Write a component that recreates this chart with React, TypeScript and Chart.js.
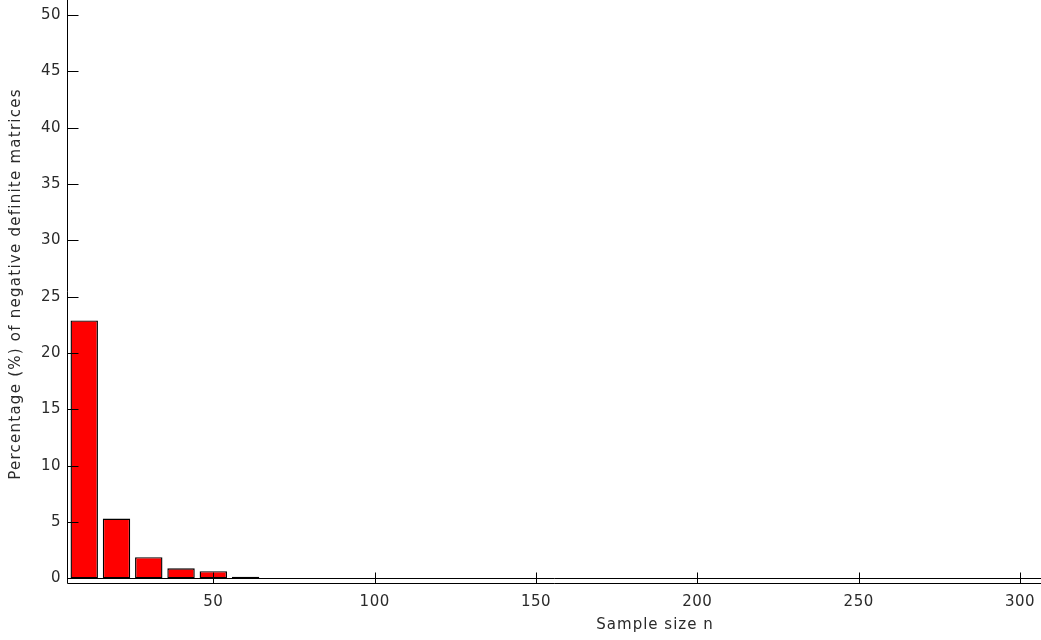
import React, { useEffect, useRef } from "react";
import { Chart, registerables } from "chart.js";

Chart.register(...registerables);

// ---- data ----
const sampleSizes: number[] = [
  10, 20, 30, 40, 50, 60, 70, 80, 90, 100, 110, 120, 130, 140, 150,
  160, 170, 180, 190, 200, 210, 220, 230, 240, 250, 260, 270, 280, 290, 300,
];
const negativeDefinitePct: number[] = [
  22.9, 5.32, 1.89, 0.91, 0.65, 0.15, 0, 0, 0, 0, 0, 0, 0, 0, 0,
  0, 0, 0, 0, 0, 0, 0, 0, 0, 0, 0, 0, 0, 0, 0,
];
const xTickValues: number[] = [50, 100, 150, 200, 250, 300];
const yTickValues: number[] = [0, 5, 10, 15, 20, 25, 30, 35, 40, 45, 50];
const xAxisTitle = "Sample size n";
const yAxisTitle = "Percentage (%) of negative definite matrices";

const FONT = '"DejaVu Sans", "Liberation Sans", Arial, sans-serif';
const TEXT_COLOR = "#2a2a2a";

const matlabAxesPlugin = {
  id: "matlabAxes",
  beforeDraw(chart: any) {
    const ctx = chart.ctx as CanvasRenderingContext2D;
    ctx.save();
    ctx.fillStyle = "#ffffff";
    ctx.fillRect(0, 0, chart.width, chart.height);
    ctx.restore();
    (ctx as any).letterSpacing = "0.5px";
  },
  afterDatasetsDraw(chart: any) {
    const ctx = chart.ctx as CanvasRenderingContext2D;
    const { chartArea, scales } = chart;
    const xs = scales.x;
    const ys = scales.y;
    const left = Math.round(chartArea.left) + 0.5;
    const right = chartArea.right;
    const bottom = Math.round(chartArea.bottom) + 0.5;
    const top = chartArea.top;
    const tickLen = 11;
    ctx.save();
    ctx.strokeStyle = "#000000";
    ctx.lineWidth = 1;
    ctx.beginPath();
    // y axis
    ctx.moveTo(left, top);
    ctx.lineTo(left, bottom);
    // x axis
    ctx.moveTo(left, bottom);
    ctx.lineTo(right, bottom);
    // baseline at 0
    const y0 = Math.round(ys.getPixelForValue(0)) + 0.5;
    ctx.moveTo(left, y0);
    ctx.lineTo(right, y0);
    // x ticks (inside)
    xTickValues.forEach((v) => {
      const px = Math.round(xs.getPixelForValue(v)) + 0.5;
      ctx.moveTo(px, bottom);
      ctx.lineTo(px, bottom - tickLen);
    });
    // y ticks (inside)
    yTickValues.forEach((v) => {
      const py = Math.round(ys.getPixelForValue(v)) + 0.5;
      ctx.moveTo(left, py);
      ctx.lineTo(left + tickLen, py);
    });
    ctx.stroke();

    // axis titles
    ctx.fillStyle = TEXT_COLOR;
    ctx.font = `15px ${FONT}`;
    (ctx as any).letterSpacing = "1px";
    ctx.textAlign = "center";
    ctx.textBaseline = "middle";
    ctx.fillText(xAxisTitle, 655, 625);
    (ctx as any).letterSpacing = "1.25px";
    ctx.translate(16, 284);
    ctx.rotate(-Math.PI / 2);
    ctx.fillText(yAxisTitle, 0, 0);
    ctx.restore();
  },
};

export default function App() {
  const canvasRef = useRef<HTMLCanvasElement | null>(null);

  useEffect(() => {
    if (!canvasRef.current) return;
    const chart = new Chart(canvasRef.current, {
      type: "bar",
      data: {
        datasets: [
          {
            data: sampleSizes.map((n, i) => ({ x: n, y: negativeDefinitePct[i] })),
            backgroundColor: "#ff0000",
            borderColor: "#000000",
            borderWidth: 1.4,
            borderSkipped: false,
            barPercentage: 0.85,
            categoryPercentage: 1,
          },
        ],
      },
      options: {
        animation: false,
        responsive: false,
        devicePixelRatio: 1,
        layout: { padding: 0 },
        plugins: {
          legend: { display: false },
          tooltip: { enabled: false },
          title: { display: false },
        },
        scales: {
          x: {
            type: "linear",
            offset: false,
            min: 4.66,
            max: 306.5,
            grid: { display: false, drawTicks: false },
            border: { display: false },
            ticks: {
              color: TEXT_COLOR,
              font: { family: FONT, size: 15 },
              padding: 10,
              maxRotation: 0,
              autoSkip: false,
            },
            afterBuildTicks: (scale: any) => {
              scale.ticks = xTickValues.map((v) => ({ value: v }));
            },
            afterFit: (scale: any) => {
              scale.height = 57;
              scale.paddingLeft = 0;
              scale.paddingRight = 0;
            },
          },
          y: {
            type: "linear",
            min: -0.4,
            max: 51.33,
            grid: { display: false, drawTicks: false },
            border: { display: false },
            ticks: {
              color: TEXT_COLOR,
              font: { family: FONT, size: 15 },
              padding: 6,
              autoSkip: false,
            },
            afterBuildTicks: (scale: any) => {
              scale.ticks = yTickValues.map((v) => ({ value: v }));
            },
            afterFit: (scale: any) => {
              scale.width = 67;
              scale.paddingTop = 0;
              scale.paddingBottom = 0;
            },
          },
        },
      },
      plugins: [matlabAxesPlugin],
    } as any);
    return () => chart.destroy();
  }, []);

  return (
    <div style={{ position: "absolute", left: 0, top: 0, width: 1041, height: 640, background: "#fff" }}>
      <canvas ref={canvasRef} width={1041} height={640} style={{ display: "block" }} />
    </div>
  );
}
